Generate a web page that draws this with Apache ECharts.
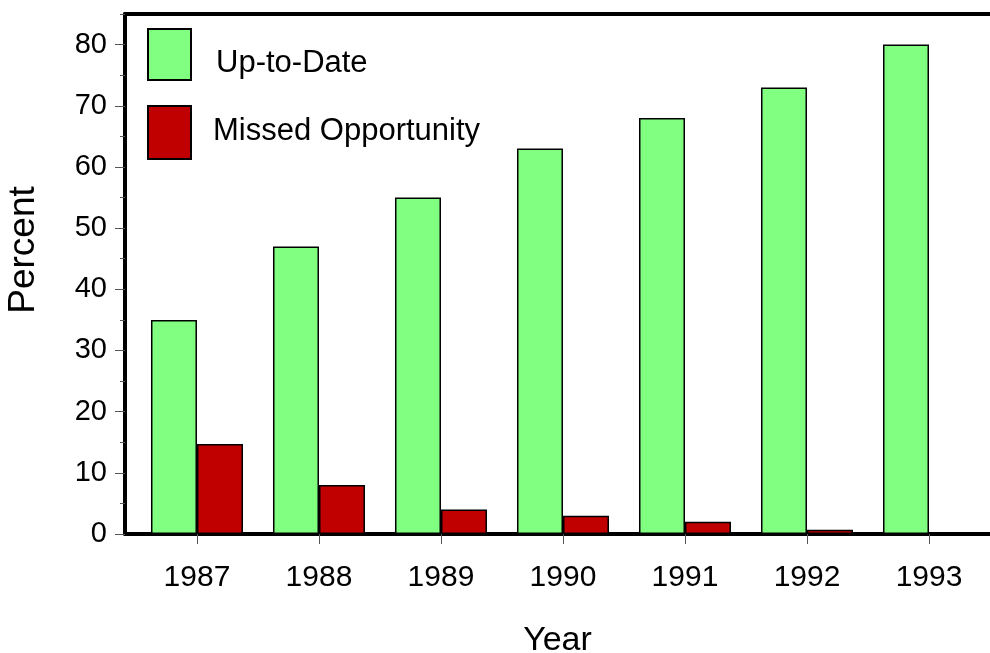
<!DOCTYPE html>
<html>
<head>
<meta charset="utf-8">
<script src="https://cdn.jsdelivr.net/npm/echarts@6/dist/echarts.min.js"></script>
<style>
html,body{margin:0;padding:0;background:#fff;}
#chart{width:990px;height:653px;}
</style>
</head>
<body>
<div id="chart"></div>
<script>
var years = [1987, 1988, 1989, 1990, 1991, 1992, 1993];
var upToDate = [35, 47, 55, 63, 68, 73, 80];
var missed = [14.7, 8, 4, 3, 2, 0.7, 0.3];
var yMajorTicks = [0, 10, 20, 30, 40, 50, 60, 70, 80];
var yMinorTicks = [5, 15, 25, 35, 45, 55, 65, 75, 85];

var FONT = '"Liberation Sans", Arial, sans-serif';
var chart = echarts.init(document.getElementById('chart'), null, {renderer: 'canvas'});

function pairs(vals) { return years.map(function (y, i) { return [y, vals[i]]; }); }

chart.setOption({
  animation: false,
  backgroundColor: '#fff',
  grid: {left: 125, right: 0, top: 14, bottom: 119, containLabel: false, outerBoundsMode: 'none'},
  legend: [
    {
      data: ['Up-to-Date'],
      orient: 'vertical', left: 147, top: 28, padding: 0,
      itemWidth: 43, itemHeight: 51, icon: 'rect',
      formatter: '{a|{name}}',
      textStyle: {fontSize: 31, color: '#000', fontFamily: FONT,
                  rich: {a: {fontSize: 31, color: '#000', fontFamily: FONT, padding: [18, 0, 0, 20]}}}
    },
    {
      data: ['Missed Opportunity'],
      orient: 'vertical', left: 147, top: 105, padding: 0,
      itemWidth: 43, itemHeight: 53, icon: 'rect',
      formatter: '{a|{name}}',
      textStyle: {fontSize: 31, color: '#000', fontFamily: FONT,
                  rich: {a: {fontSize: 31, color: '#000', fontFamily: FONT, padding: [0, 0, 2, 17]}}}
    }
  ],
  xAxis: [
    {
      type: 'value', position: 'bottom', min: 1986.41, max: 1993.5,
      axisLine: {show: true, onZero: false, lineStyle: {color: '#000', width: 4}},
      axisTick: {show: true, customValues: years, length: 10, lineStyle: {color: '#555', width: 1}},
      axisLabel: {customValues: years, fontSize: 30, color: '#000', fontFamily: FONT, margin: 29,
                  formatter: function (v) { return String(v); }},
      splitLine: {show: false},
      name: 'Year', nameLocation: 'middle', nameGap: 90,
      nameTextStyle: {fontSize: 34, color: '#000', fontFamily: FONT}
    },
    {
      type: 'value', position: 'top', min: 1986.41, max: 1993.5,
      axisLine: {show: true, onZero: false, lineStyle: {color: '#000', width: 4}},
      axisTick: {show: false}, axisLabel: {show: false}, splitLine: {show: false}
    }
  ],
  yAxis: [
    {
      type: 'value', position: 'left', min: 0, max: 85, interval: 10,
      axisLine: {show: true, onZero: false, lineStyle: {color: '#000', width: 4}},
      axisTick: {show: true, customValues: yMajorTicks, length: 10, lineStyle: {color: '#555', width: 1}},
      axisLabel: {customValues: yMajorTicks, fontSize: 29, color: '#000', fontFamily: FONT, margin: 18},
      splitLine: {show: false}
    },
    {
      type: 'value', position: 'left', min: 0, max: 85, interval: 10,
      axisLine: {show: false, onZero: false},
      axisTick: {show: true, customValues: yMinorTicks, length: 5, lineStyle: {color: '#555', width: 1}},
      axisLabel: {show: false}, splitLine: {show: false}
    }
  ],
  graphic: [{
    type: 'text', x: 24, y: 250, rotation: Math.PI / 2,
    style: {text: 'Percent', font: '37px ' + FONT, fill: '#000', textAlign: 'center', textVerticalAlign: 'middle'}
  }],
  series: [
    {
      name: 'Up-to-Date', type: 'bar', xAxisIndex: 0, yAxisIndex: 0,
      barWidth: 46, barGap: '0%',
      itemStyle: {color: '#80FF80', borderColor: '#000', borderWidth: 1.5},
      data: pairs(upToDate)
    },
    {
      name: 'Missed Opportunity', type: 'bar', xAxisIndex: 0, yAxisIndex: 0,
      barWidth: 46, barGap: '0%',
      itemStyle: {color: '#C00000', borderColor: '#000', borderWidth: 1.5},
      data: pairs(missed)
    }
  ]
});
</script>
</body>
</html>
